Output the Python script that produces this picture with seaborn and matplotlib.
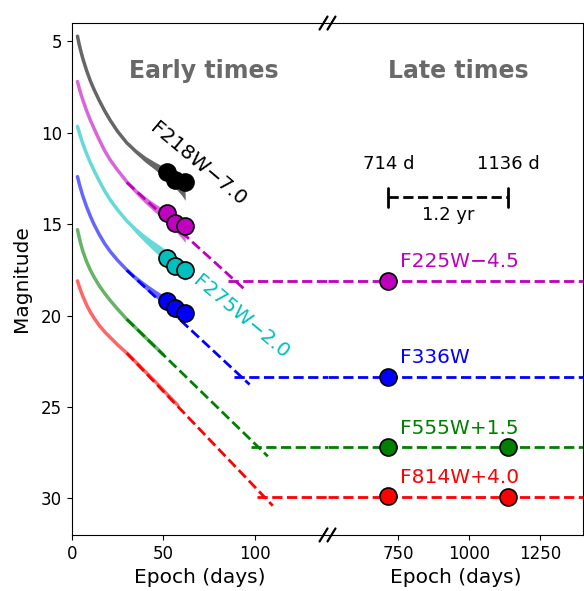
import matplotlib

matplotlib.use("Agg")

import matplotlib.colors as mcolors
import matplotlib.pyplot as plt
import seaborn as sns

# early-time model curves (upper edge), magnitudes vs days
CURVE_DAYS = [3, 4, 5, 6, 8, 10, 12, 15, 18, 21, 25, 30, 35, 40, 45, 50, 55, 60, 62]
F218W_CURVE = [4.72, 5.2, 5.6, 5.97, 6.6, 7.15, 7.62, 8.25, 8.82, 9.33, 9.93, 10.55,
               11.02, 11.4, 11.7, 11.97, 12.24, 12.5, 12.6]
F225W_CURVE = [7.2, 7.58, 7.92, 8.23, 8.8, 9.3, 9.75, 10.4, 11.0, 11.5, 12.05, 12.68,
               13.2, 13.62, 13.97, 14.28, 14.58, 14.88, 15.0]
F275W_CURVE = [9.65, 10.0, 10.32, 10.62, 11.15, 11.62, 12.05, 12.65, 13.2, 13.68, 14.22, 14.82,
               15.3, 15.72, 16.08, 16.42, 16.75, 17.05, 17.17]
F336W_CURVE = [12.4, 12.8, 13.15, 13.48, 14.05, 14.55, 15.0, 15.58, 16.08, 16.5, 16.98, 17.5,
               17.95, 18.33, 18.68, 19.0, 19.3, 19.6, 19.7]

# lower edge of the spread after ~30 d
BAND_DAYS = [30, 35, 40, 45, 50, 55, 60, 62]
F218W_LOWER = [10.62, 11.15, 11.6, 11.98, 12.4, 12.85, 13.4, 13.7]
F225W_LOWER = [12.75, 13.35, 13.85, 14.3, 14.75, 15.2, 15.75, 16.0]
F275W_LOWER = [14.9, 15.5, 16.0, 16.48, 16.95, 17.4, 17.9, 18.1]
F336W_LOWER = [17.58, 18.1, 18.55, 18.95, 19.35, 19.75, 20.1, 20.2]

F555W_DAYS = [3, 4, 5, 6, 8, 10, 12, 15, 18, 21, 25, 30, 35, 40, 45, 50]
F555W_CURVE = [15.3, 15.75, 16.15, 16.5, 17.05, 17.5, 17.88, 18.38, 18.8, 19.18, 19.65, 20.2,
               20.68, 21.17, 21.65, 22.14]
F814W_DAYS = [3, 4, 5, 6, 8, 10, 12, 15, 18, 21, 25, 30, 35, 40, 45, 50, 55, 58]
F814W_CURVE = [18.1, 18.42, 18.7, 18.96, 19.42, 19.8, 20.12, 20.55, 20.9, 21.2, 21.6, 22.05,
               22.55, 23.05, 23.55, 24.08, 24.6, 24.9]

# early HST epochs
EARLY_DAYS = [52, 56.3, 61.7]
F218W_EARLY = [12.17, 12.58, 12.71]
F225W_EARLY = [14.41, 14.91, 15.09]
F275W_EARLY = [16.83, 17.28, 17.52]
F336W_EARLY = [19.2, 19.6, 19.84]

# late epochs
LATE_DAYS = [714, 1136]
F225W_LATE = [18.1]
F336W_LATE = [23.35]
F555W_LATE = [27.2, 27.2]
F814W_LATE = [29.85, 29.95]

# decline extrapolation and plateau levels (F225W, F336W, F555W, F814W)
DECLINE_START_DAY = 30
DECLINE_START_MAGS = [12.72, 17.52, 20.2, 22.05]
DECLINE_END_DAYS = [94.5, 97.3, 107.3, 110.0]
DECLINE_END_MAGS = [18.56, 23.77, 27.7, 30.4]
PLATEAU_START_DAYS = [85.4, 88.5, 98.2, 101.3]
PLATEAU_MAGS = [18.1, 23.35, 27.2, 29.9]
LATE_LABELS = ["F225W\u22124.5", "F336W", "F555W+1.5", "F814W+4.0"]


def faded(color, alpha=0.6):
    r, g, b = mcolors.to_rgb(color)
    return (1 - alpha + alpha * r, 1 - alpha + alpha * g, 1 - alpha + alpha * b)


def main() -> None:
    sns.set_style(
        "ticks",
        rc={
            "axes.edgecolor": "black",
            "text.color": "black",
            "axes.labelcolor": "black",
            "xtick.color": "black",
            "ytick.color": "black",
        },
    )
    plt.rcParams["font.family"] = ["DejaVu Sans"]

    fig = plt.figure(figsize=(5.84, 5.91), dpi=100)
    left, width, bottom, height = 0.1233, 0.4375, 0.0948, 0.8662
    ax1 = fig.add_axes([left, bottom, width, height])
    ax2 = fig.add_axes([left + width, bottom, width, height])

    band_start = CURVE_DAYS.index(BAND_DAYS[0])
    curves = [
        ("k", F218W_CURVE, F218W_LOWER),
        ("m", F225W_CURVE, F225W_LOWER),
        ("c", F275W_CURVE, F275W_LOWER),
        ("b", F336W_CURVE, F336W_LOWER),
    ]
    for color, upper, lower in curves:
        soft = faded(color)
        sns.lineplot(x=CURVE_DAYS, y=upper, ax=ax1, color=soft, lw=2.5, zorder=2,
                     solid_capstyle="round")
        ax1.fill_between(BAND_DAYS, upper[band_start:], lower, color=soft, lw=0, zorder=2)

    sns.lineplot(x=F555W_DAYS, y=F555W_CURVE, ax=ax1, color=faded("g"), lw=2.5, zorder=2,
                 solid_capstyle="round")
    sns.lineplot(x=F814W_DAYS, y=F814W_CURVE, ax=ax1, color=faded("r"), lw=2.5, zorder=2,
                 solid_capstyle="round")

    dash_colors = ["m", "b", "g", "r"]
    for i, color in enumerate(dash_colors):
        sns.lineplot(
            x=[DECLINE_START_DAY, DECLINE_END_DAYS[i]],
            y=[DECLINE_START_MAGS[i], DECLINE_END_MAGS[i]],
            ax=ax1, color=color, lw=2, linestyle="--", zorder=3,
        )
        sns.lineplot(
            x=[PLATEAU_START_DAYS[i], 140], y=[PLATEAU_MAGS[i]] * 2,
            ax=ax1, color=color, lw=2, linestyle="--", zorder=3,
        )
        sns.lineplot(
            x=[500, 1400], y=[PLATEAU_MAGS[i]] * 2,
            ax=ax2, color=color, lw=2, linestyle="--", zorder=3,
        )
        ax2.text(755, PLATEAU_MAGS[i] - 1.05, LATE_LABELS[i], color=color,
                 fontsize=14.5, ha="left", va="center")

    early = [("k", F218W_EARLY), ("m", F225W_EARLY), ("c", F275W_EARLY), ("b", F336W_EARLY)]
    for color, mags in early:
        sns.scatterplot(x=EARLY_DAYS, y=mags, ax=ax1, color=color, s=150,
                        edgecolor="black", linewidth=1.2, zorder=5)

    late = [("m", F225W_LATE), ("b", F336W_LATE), ("g", F555W_LATE), ("r", F814W_LATE)]
    for color, mags in late:
        sns.scatterplot(x=LATE_DAYS[: len(mags)], y=mags, ax=ax2, color=color, s=150,
                        edgecolor="black", linewidth=1.2, zorder=5)

    ax1.text(69, 11.7, "F218W\u22127.0", rotation=-40, fontsize=14.5,
             ha="center", va="center", rotation_mode="anchor")
    ax1.text(92.7, 20.1, "F275W\u22122.0", rotation=-40, fontsize=14.5, color="c",
             ha="center", va="center", rotation_mode="anchor")
    ax1.text(72, 6.6, "Early times", fontsize=17, fontweight="bold",
             color="dimgray", ha="center", va="center")
    ax2.text(960, 6.6, "Late times", fontsize=17, fontweight="bold",
             color="dimgray", ha="center", va="center")

    # scale bar between the two late epochs
    bar_mag = 13.54
    ax2.plot(LATE_DAYS, [bar_mag, bar_mag], color="k", lw=2, ls="--")
    for day in LATE_DAYS:
        ax2.plot([day, day], [bar_mag - 0.5, bar_mag + 0.5], color="k", lw=2)
        ax2.text(day, 11.7, f"{day} d", fontsize=13, ha="center", va="center")
    ax2.text(927, 14.5, "1.2 yr", fontsize=13, ha="center", va="center")

    for ax in (ax1, ax2):
        ax.set_ylim(32, 4)
        ax.set_xlabel("Epoch (days)", fontsize=14.5)
        ax.tick_params(labelsize=12)
    ax1.set_xlim(0, 140)
    ax1.set_xticks([0, 50, 100])
    ax1.set_yticks([5, 10, 15, 20, 25, 30])
    ax1.set_ylabel("Magnitude", fontsize=14.5, labelpad=7)
    ax1.spines["right"].set_visible(False)

    ax2.set_xlim(500, 1400)
    ax2.set_xticks([750, 1000, 1250])
    ax2.spines["left"].set_visible(False)
    ax2.tick_params(axis="y", left=False, labelleft=False)

    # broken-axis marks
    bx = left + width
    dx, dy, off = 0.0068, 0.011, 0.0068
    for y in (bottom, bottom + height):
        for sx in (bx - off, bx + off):
            ax2.plot([sx - dx, sx + dx], [y - dy, y + dy], color="k", lw=1.6,
                     transform=fig.transFigure, clip_on=False, zorder=10)

    fig.savefig("out.png", dpi=100)
    plt.close(fig)


if __name__ == "__main__":
    main()
